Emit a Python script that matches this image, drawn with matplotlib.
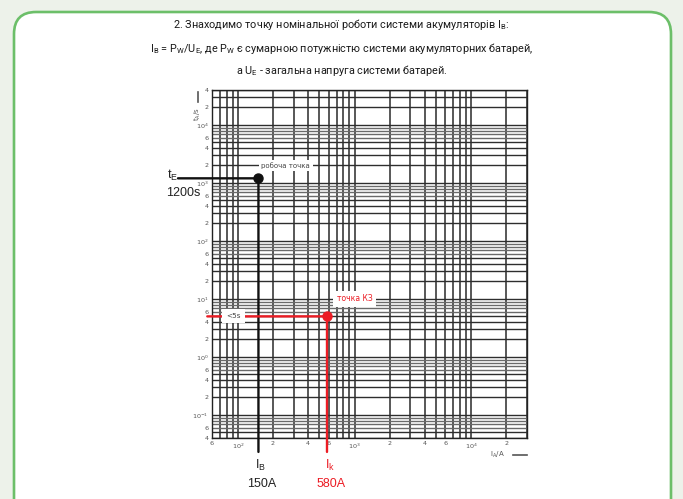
import numpy as np
import matplotlib
matplotlib.use("Agg")
import matplotlib.pyplot as plt
from matplotlib.patches import FancyBboxPatch
from matplotlib.transforms import IdentityTransform
from matplotlib.ticker import FixedLocator, FuncFormatter

plt.rcParams['mathtext.default'] = 'regular'

# values
x_limits = (60, 30000)          # I_A / A
y_limits = (0.04, 40000)        # t_A / s
I_B = 150                       # nominal current, A
t_E = 1200                      # nominal time, s
I_K = 580                       # short-circuit current, A
t_K = 5                         # short-circuit time, s
labeled_subs = [2, 4, 6]

title_lines = [
    "2. Знаходимо точку номінальної роботи системи акумуляторів I$_{B}$:",
    "I$_{B}$ = P$_{W}$/U$_{E}$, де P$_{W}$ є сумарною потужністю системи акумуляторних батарей,",
    "а U$_{E}$ - загальна напруга системи батарей.",
]

RED = "#ec1c24"
GREEN = "#6cbf69"

fig = plt.figure(figsize=(6.83, 4.99), dpi=100)
fig.patch.set_facecolor("#edf2ea")

# rounded green frame (pixel coords)
frame = FancyBboxPatch((14, -40), 657, 527, boxstyle="round,pad=0,rounding_size=22",
                       transform=IdentityTransform(), facecolor="white",
                       edgecolor=GREEN, linewidth=1.9, zorder=-5)
fig.patches.append(frame)

for i, line in enumerate(title_lines):
    fig.text(0.5, 1 - (25 + 23 * i) / 499, line, ha="center", va="center",
             fontsize=7.8, family="Roboto", color="#1a1a1a")

ax = fig.add_axes([212 / 683, 1 - 438 / 499, 315 / 683, 348 / 499])
ax.set_xscale("log")
ax.set_yscale("log")
ax.set_xlim(*x_limits)
ax.set_ylim(*y_limits)


def grid_values(lo, hi, subs=range(1, 10)):
    vals = []
    for e in range(int(np.floor(np.log10(lo))), int(np.ceil(np.log10(hi))) + 1):
        for s in subs:
            v = s * 10.0 ** e
            if lo * 0.999 <= v <= hi * 1.001:
                vals.append(v)
    return vals


def tick_fmt(v, pos):
    e = int(np.floor(np.log10(v) + 1e-9))
    s = int(round(v / 10.0 ** e))
    if s == 1:
        return "$10^{%d}$" % e
    if s in labeled_subs:
        return str(s)
    return ""


for axis, lims in ((ax.xaxis, x_limits), (ax.yaxis, y_limits)):
    axis.set_major_locator(FixedLocator(grid_values(*lims)))
    axis.set_major_formatter(FuncFormatter(tick_fmt))
    axis.set_minor_locator(FixedLocator([]))

ax.tick_params(length=0, labelsize=4.6, labelcolor="#555555", pad=2.5)

# grid: vertical lines dark, the crowded 6..9 horizontals look lighter
for v in grid_values(*x_limits):
    ax.axvline(v, color="#2a2a2a", lw=1.1, zorder=1)
for v in grid_values(*y_limits, subs=range(1, 6)):
    ax.axhline(v, color="#2e2e2e", lw=1.0, zorder=1)
for v in grid_values(*y_limits, subs=range(6, 10)):
    ax.axhline(v, color="#6a6a6a", lw=1.0, zorder=1)

for sp in ax.spines.values():
    sp.set_color("#222222")
    sp.set_linewidth(1.0)

# axis names
ax.text(-0.045, 0.93, "t$_{A}$/s", transform=ax.transAxes, rotation=90,
        ha="center", va="center", fontsize=5, color="#555555")
ax.plot([-0.045, -0.045], [0.965, 0.995], transform=ax.transAxes, clip_on=False,
        color="#555555", lw=1.2)
ax.text(0.93, -0.05, "I$_{A}$/A", transform=ax.transAxes,
        ha="right", va="center", fontsize=5, color="#555555")
ax.plot([0.955, 1.0], [-0.05, -0.05], transform=ax.transAxes, clip_on=False,
        color="#555555", lw=1.2)

line_kw = dict(arrowstyle="-", shrinkA=0, shrinkB=0, lw=1.7)

# nominal operating point
ax.annotate("", xy=(I_B, t_E), xytext=(-0.108, t_E),
            textcoords=("axes fraction", "data"),
            arrowprops=dict(color="#111111", **line_kw), zorder=5)
ax.annotate("", xy=(I_B, t_E), xytext=(I_B, -0.04),
            textcoords=("data", "axes fraction"),
            arrowprops=dict(color="#111111", **line_kw), zorder=5)
ax.plot([I_B], [t_E], "o", color="#111111", ms=6.5, zorder=6, clip_on=False)

# short circuit point
ax.annotate("", xy=(I_K, t_K), xytext=(-0.015, t_K),
            textcoords=("axes fraction", "data"),
            arrowprops=dict(color=RED, **line_kw), zorder=5)
ax.annotate("", xy=(I_K, t_K), xytext=(I_K, -0.04),
            textcoords=("data", "axes fraction"),
            arrowprops=dict(color=RED, **line_kw), zorder=5)
ax.plot([I_K], [t_K], "o", color=RED, ms=6.5, zorder=6, clip_on=False)

box = dict(boxstyle="square,pad=0.35", facecolor="white", edgecolor="none")
ax.text(257, 2000, "робоча точка", ha="center", va="center", fontsize=5,
        color="#444444", bbox=box, zorder=7)
ax.text(92, t_K, "<5s", ha="center", va="center", fontsize=5.2,
        color="#444444", bbox=dict(boxstyle="square,pad=0.55", facecolor="white",
                                   edgecolor="none"), zorder=7)
ax.text(1000, 10, "точка КЗ", ha="center", va="center", fontsize=5.5,
        color=RED, bbox=dict(boxstyle="square,pad=0.45", facecolor="white",
                             edgecolor="none"), zorder=7)

# outside labels
lab_kw = dict(ha="center", va="center", family="Liberation Sans")
fig.text(173 / 683, 1 - 175 / 499, "t$_{E}$", fontsize=9, color="#222222", **lab_kw)
fig.text(183 / 683, 1 - 193 / 499, "1200s", fontsize=9, color="#222222", **lab_kw)
fig.text(260 / 683, 1 - 465 / 499, "I$_{B}$", fontsize=9, color="#222222", **lab_kw)
fig.text(262 / 683, 1 - 484 / 499, "150A", fontsize=9, color="#222222", **lab_kw)
fig.text(330 / 683, 1 - 465 / 499, "I$_{k}$", fontsize=9, color=RED, **lab_kw)
fig.text(331 / 683, 1 - 484 / 499, "580A", fontsize=9, color=RED, **lab_kw)

fig.savefig("out.png", dpi=100, facecolor=fig.get_facecolor())
